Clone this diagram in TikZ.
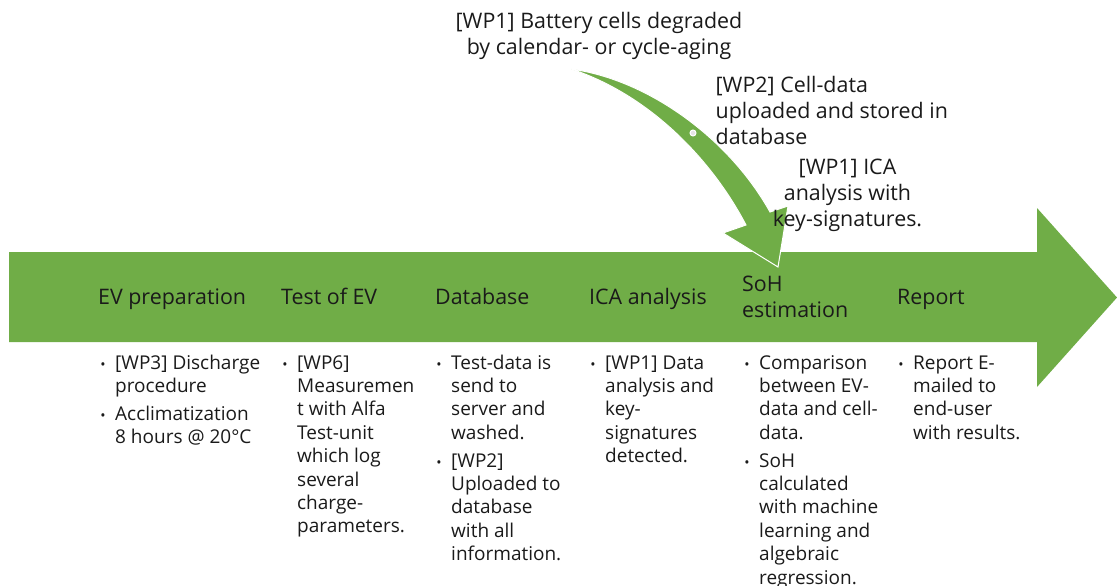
\documentclass[tikz,border=0pt]{standalone}
\usepackage{fontspec}
\setmainfont{Open Sans}
\definecolor{flowgreen}{HTML}{70AD47}
\definecolor{ink}{HTML}{1A1A1A}
\tikzset{
  band/.style={fill=flowgreen, draw=none},
  bentarrow/.style={fill=flowgreen, draw=white, line width=1pt, line join=miter},
  note/.style={font=\fontsize{21.4}{26}\selectfont, text=ink, inner sep=0pt, align=center, anchor=base},
  noteleft/.style={font=\fontsize{21.4}{26}\selectfont, text=ink, inner sep=0pt, align=left, anchor=base west},
  stage/.style={font=\fontsize{21.4}{26}\selectfont, text=ink, inner sep=0pt, align=left, anchor=base west},
  item/.style={font=\fontsize{19}{23.4}\selectfont, text=ink, inner sep=0pt, align=left, anchor=base west},
  bul/.style={font=\fontsize{14}{23.4}\selectfont, text=ink, inner sep=0pt, anchor=base}
}
\begin{document}
\begin{tikzpicture}[x=1pt, y=-1pt]
\useasboundingbox (0,0) rectangle (1117,586);

% main process arrow
\path[band] (9,252) -- (1037,252) -- (1037,208) -- (1117,297.5)
  -- (1037,387) -- (1037,342) -- (9,342) -- cycle;

% bent arrow from the cell-aging note down into the SoH stage
\path[bentarrow] (571,69) .. controls (650,80) and (730,140) .. (770,212)
  -- (788,206) -- (778,267) -- (723,233) -- (746,225)
  .. controls (712,160) and (650,95) .. (571,69) -- cycle;
\path[fill=white!80!gray, draw=white, line width=1pt] (693,133) circle (3);

% notes above the arrow (anchored at the baseline of their last line)
\node[note] (n1) at (599,55) {[WP1] Battery cells degraded\\by calendar- or cycle-aging};
\node[noteleft] (n2) at (715.5,144) {[WP2] Cell-data\\uploaded and stored in\\database};
\node[note] (n3) at (847.5,226) {[WP1] ICA\\analysis with\\key-signatures.};

% stages inside the arrow
\node[stage] (s1) at (98,304) {EV preparation};
\node[stage] (s2) at (281,304) {Test of EV};
\node[stage] (s3) at (435,304) {Database};
\node[stage] (s4) at (589,304) {ICA analysis};
\node[stage] (s5) at (742,317) {SoH\\estimation};
\node[stage] (s6) at (897,304) {Report};

% details below each stage (anchored at the baseline of their last line)
\node[bul] (b1a) at (103,369) {•};
\node[item] (d1a) at (115,392.4) {[WP3] Discharge\\procedure};
\node[bul] (b1b) at (103,420) {•};
\node[item] (d1b) at (115,443.4) {Acclimatization\\8 hours @ 20°C};

\node[bul] (b2a) at (285,369) {•};
\node[item] (d2a) at (297,532.8) {[WP6]\\Measuremen\\t with Alfa\\Test-unit\\which log\\several\\charge-\\parameters.};

\node[bul] (b3a) at (439,369) {•};
\node[item] (d3a) at (451,439.2) {Test-data is\\send to\\server and\\washed.};
\node[bul] (b3b) at (439,467) {•};
\node[item] (d3b) at (451,560.6) {[WP2]\\Uploaded to\\database\\with all\\information.};

\node[bul] (b4a) at (593,369) {•};
\node[item] (d4a) at (605,462.6) {[WP1] Data\\analysis and\\key-\\signatures\\detected.};

\node[bul] (b5a) at (747,369) {•};
\node[item] (d5a) at (759,439.2) {Comparison\\between EV-\\data and cell-\\data.};
\node[bul] (b5b) at (747,467) {•};
\node[item] (d5b) at (759,584) {SoH\\calculated\\with machine\\learning and\\algebraic\\regression.};

\node[bul] (b6a) at (901,369) {•};
\node[item] (d6a) at (913,439.2) {Report E-\\mailed to\\end-user\\with results.};
\end{tikzpicture}
\end{document}
